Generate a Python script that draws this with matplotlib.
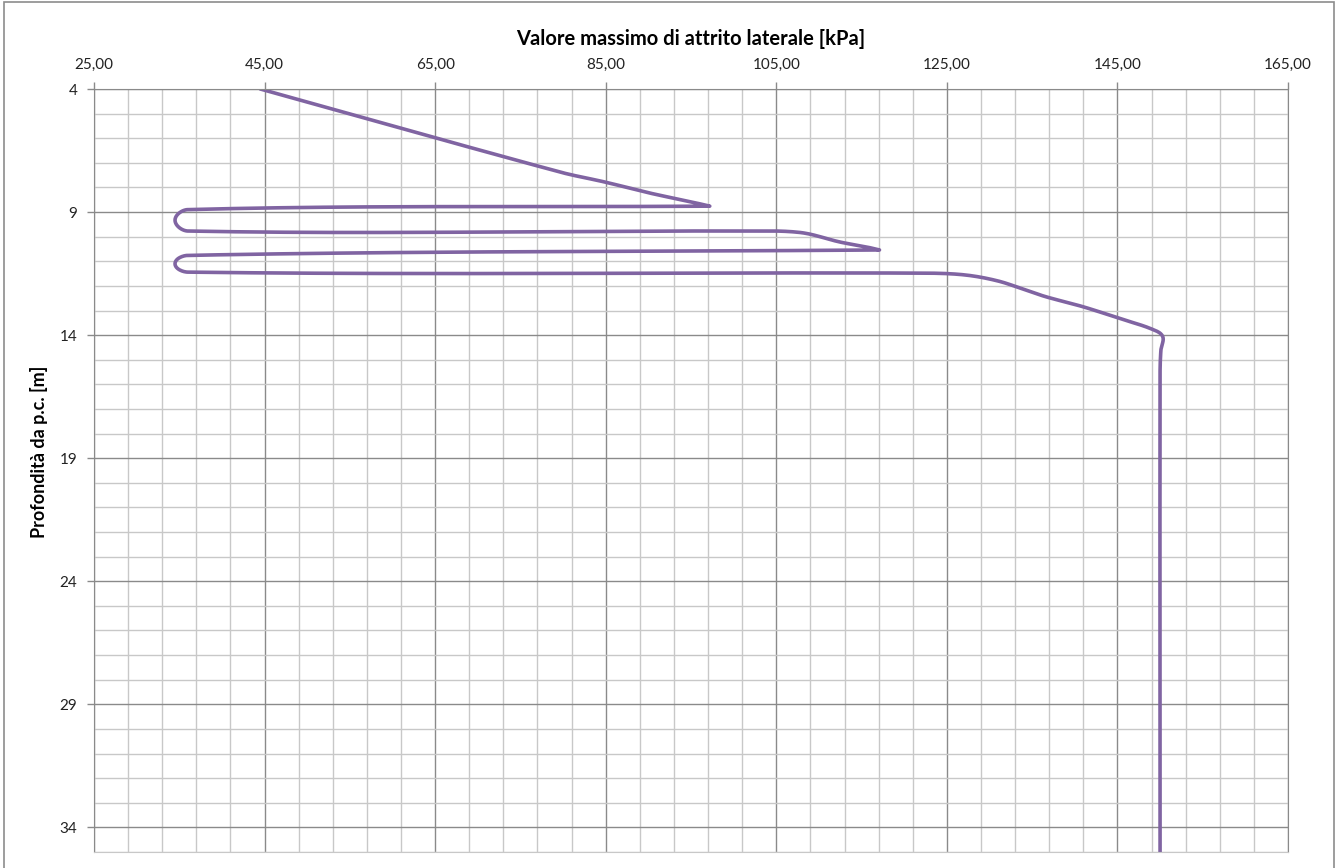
import numpy as np
import matplotlib.pyplot as plt
from matplotlib.patches import Rectangle
from matplotlib.ticker import FuncFormatter

# Attrito laterale massimo [kPa] lungo la profondità [m]
attrito = [44.5, 79.6, 84.9, 90.2, 95.2, 97.2, 36.0, 34.5, 36.0,
           101.0, 107.8, 112.5, 115.6, 117.1, 36.0, 34.5, 36.0,
           122.0, 127.0, 131.0, 134.5, 136.7, 141.0, 145.5, 149.0,
           150.3, 150.1, 150.0, 150.0]
profondita = [4.0, 7.37, 7.78, 8.23, 8.6, 8.76, 8.9, 9.33, 9.77,
              9.77, 9.83, 10.22, 10.42, 10.54, 10.76, 11.1, 11.44,
              11.48, 11.55, 11.8, 12.2, 12.45, 12.85, 13.35, 13.75,
              14.05, 14.6, 15.5, 35.0]

x_ticks = np.arange(25, 166, 20)
y_ticks = np.arange(4, 35, 5)

viola = '#8064A2'
grid_major = '#8a8a8a'
grid_minor = '#c8c8c8'


def smooth_path(pts, n=24):
    # bezier a tratti, tangenti scalate sulla corda; nelle inversioni nette
    # il punto resta uno spigolo
    P = np.asarray(pts, dtype=float)
    N = len(P)
    d = np.diff(P, axis=0)
    d /= np.linalg.norm(d, axis=1)[:, None]
    T_in = np.zeros_like(P)
    T_out = np.zeros_like(P)
    T_in[0] = T_out[0] = d[0]
    T_in[-1] = T_out[-1] = d[-1]
    for i in range(1, N - 1):
        if np.dot(d[i - 1], d[i]) < -0.9:
            T_in[i], T_out[i] = d[i - 1], d[i]
        else:
            t = P[i + 1] - P[i - 1]
            t /= np.linalg.norm(t)
            T_in[i] = T_out[i] = t
    s = np.linspace(0, 1, n)[:, None]
    out = []
    for i in range(N - 1):
        a, b = P[i], P[i + 1]
        L = np.linalg.norm(b - a)
        c1 = a + T_out[i] * L / 3
        c2 = b - T_in[i + 1] * L / 3
        seg = (1 - s)**3 * a + 3 * (1 - s)**2 * s * c1 + 3 * (1 - s) * s**2 * c2 + s**3 * b
        out.append(seg if i == 0 else seg[1:])
    return np.vstack(out)


plt.rcParams['font.family'] = ['Lato', 'DejaVu Sans']

fig = plt.figure(figsize=(13.4, 8.68), dpi=100)
ax = fig.add_axes([94 / 1340, 1 - 852 / 868, 1194 / 1340, 763 / 868])

ax.set_xlim(25, 165)
ax.set_ylim(35, 4)

ax.xaxis.tick_top()
ax.set_xticks(x_ticks)
ax.set_xticks(np.arange(25, 166, 4), minor=True)
ax.set_yticks(y_ticks)
ax.set_yticks(np.arange(4, 36, 1), minor=True)
ax.xaxis.set_major_formatter(FuncFormatter(lambda v, p: f'{v:.2f}'.replace('.', ',')))

ax.grid(which='major', color=grid_major, linewidth=1.0)
ax.grid(which='minor', color=grid_minor, linewidth=1.0)
ax.set_axisbelow(True)
ax.tick_params(which='major', length=5, width=1, color=grid_major,
               labelsize=11, labelcolor='#222222', pad=7)
ax.tick_params(which='minor', length=0)
for side in ['top', 'left', 'right']:
    ax.spines[side].set_color(grid_major)
ax.spines['bottom'].set_color(grid_minor)

# curva smussata calcolata in coordinate schermo
disp = ax.transData.transform(np.column_stack([attrito, profondita]))
curve = ax.transData.inverted().transform(smooth_path(disp))
ax.plot(curve[:, 0], curve[:, 1], color=viola, linewidth=2.6,
        solid_capstyle='round', solid_joinstyle='round')

ax.text(0.5, 1.066, 'Valore massimo di attrito laterale [kPa]', transform=ax.transAxes,
        ha='center', va='center', fontsize=14.5, fontweight='bold')
ax.text(-0.046, 0.524, 'Profondità da p.c. [m]', transform=ax.transAxes, rotation=90,
        ha='center', va='center', fontsize=13, fontweight='bold')

fig.patches.append(Rectangle((4 / 1340, -0.01), 1330 / 1340, 1 - 2 / 868 + 0.01,
                             transform=fig.transFigure, fill=False,
                             edgecolor='#8c8c8c', linewidth=1.2))

fig.savefig('out.png', dpi=100)
